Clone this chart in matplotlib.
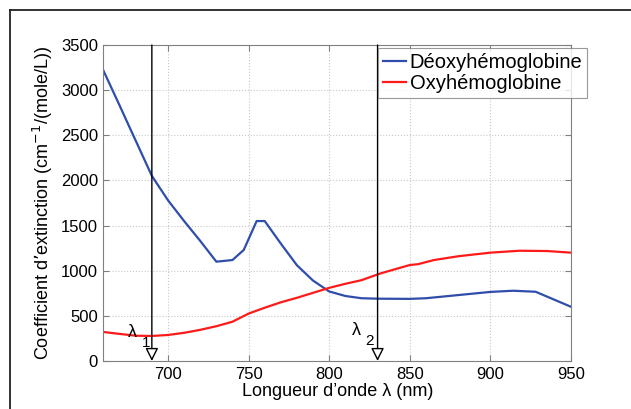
import matplotlib
matplotlib.use("Agg")
import matplotlib.pyplot as plt
from matplotlib.lines import Line2D

# spectra (nm, cm-1/(mole/L))
wl_deoxy = [660, 670, 676, 680, 690, 700, 710, 720, 730, 740, 747, 755, 760,
            770, 780, 790, 800, 810, 820, 830, 850, 860, 880, 900, 914, 928, 950]
deoxy = [3215, 2830, 2595, 2440, 2050, 1780, 1550, 1330, 1100, 1118, 1230, 1550,
         1550, 1300, 1060, 890, 770, 720, 695, 690, 688, 695, 730, 765, 778, 767, 600]

wl_oxy = [660, 670, 680, 690, 700, 710, 720, 730, 740, 750, 760, 770, 780, 790,
          800, 810, 820, 832, 850, 855, 865, 880, 900, 918, 935, 950]
oxy = [321, 300, 280, 277, 288, 312, 345, 385, 435, 525, 590, 650, 700, 755,
       810, 855, 895, 971, 1063, 1072, 1118, 1160, 1200, 1221, 1218, 1200]

lambdas = [690, 830]
lambda_names = ["1", "2"]

plt.rcParams["font.family"] = ["Liberation Sans", "DejaVu Sans"]

fig = plt.figure(figsize=(6.31, 4.09), dpi=100)
ax = fig.add_axes([0.164, 0.1174, 0.741, 0.7726])

ax.plot(wl_deoxy, deoxy, color="#2f4dab", linewidth=1.6, label="Déoxyhémoglobine")
ax.plot(wl_oxy, oxy, color="#ff1a1a", linewidth=1.6, label="Oxyhémoglobine")

# wavelength markers: vertical line with hollow arrow head at the bottom
for lam, name in zip(lambdas, lambda_names):
    ax.annotate("", xy=(lam, 0), xytext=(lam, 3500),
                arrowprops=dict(arrowstyle="-|>,head_length=0.6,head_width=0.3",
                                edgecolor="black", facecolor="white", lw=1.0,
                                mutation_scale=13, shrinkA=0, shrinkB=0))

ax.text(677.7, 310, "λ", fontsize=13, ha="center", va="center")
ax.text(686.4, 195, lambda_names[0], fontsize=11, ha="center", va="center")
ax.text(816.6, 343, "λ", fontsize=13, ha="center", va="center")
ax.text(825.3, 218, lambda_names[1], fontsize=11, ha="center", va="center")

ax.set_xlim(660, 950)
ax.set_ylim(0, 3500)
ax.set_xticks([700, 750, 800, 850, 900, 950])
ax.set_yticks(range(0, 3501, 500))
ax.grid(True, linestyle=":", color="#c8c8c8", linewidth=0.8)
ax.set_axisbelow(True)
for s in ax.spines.values():
    s.set_color("#808080")
    s.set_linewidth(0.8)
ax.tick_params(direction="in", length=4, width=0.8, color="#808080",
               top=True, right=True, labelsize=12, pad=4)

ax.set_xlabel("Longueur d’onde λ (nm)", fontsize=13, labelpad=1)
ax.set_ylabel("Coefficient d’extinction (cm$^{-1}$/(mole/L))", fontsize=13, labelpad=4)

leg = ax.legend(loc="upper right", fontsize=14.5, handlelength=1.1, handletextpad=0.2,
                borderpad=0.25, labelspacing=0.1, fancybox=False,
                bbox_to_anchor=(1.035, 0.99), borderaxespad=0.0)
leg.get_frame().set_edgecolor("#808080")
leg.get_frame().set_linewidth(0.8)

# outer frame (top and left edges visible)
fig.add_artist(Line2D([0.0158, 1.0], [0.9756, 0.9756], color="#222222", lw=1.3))
fig.add_artist(Line2D([0.0158, 0.0158], [0.0, 0.9756], color="#222222", lw=1.3))

fig.savefig("out.png", dpi=100)
